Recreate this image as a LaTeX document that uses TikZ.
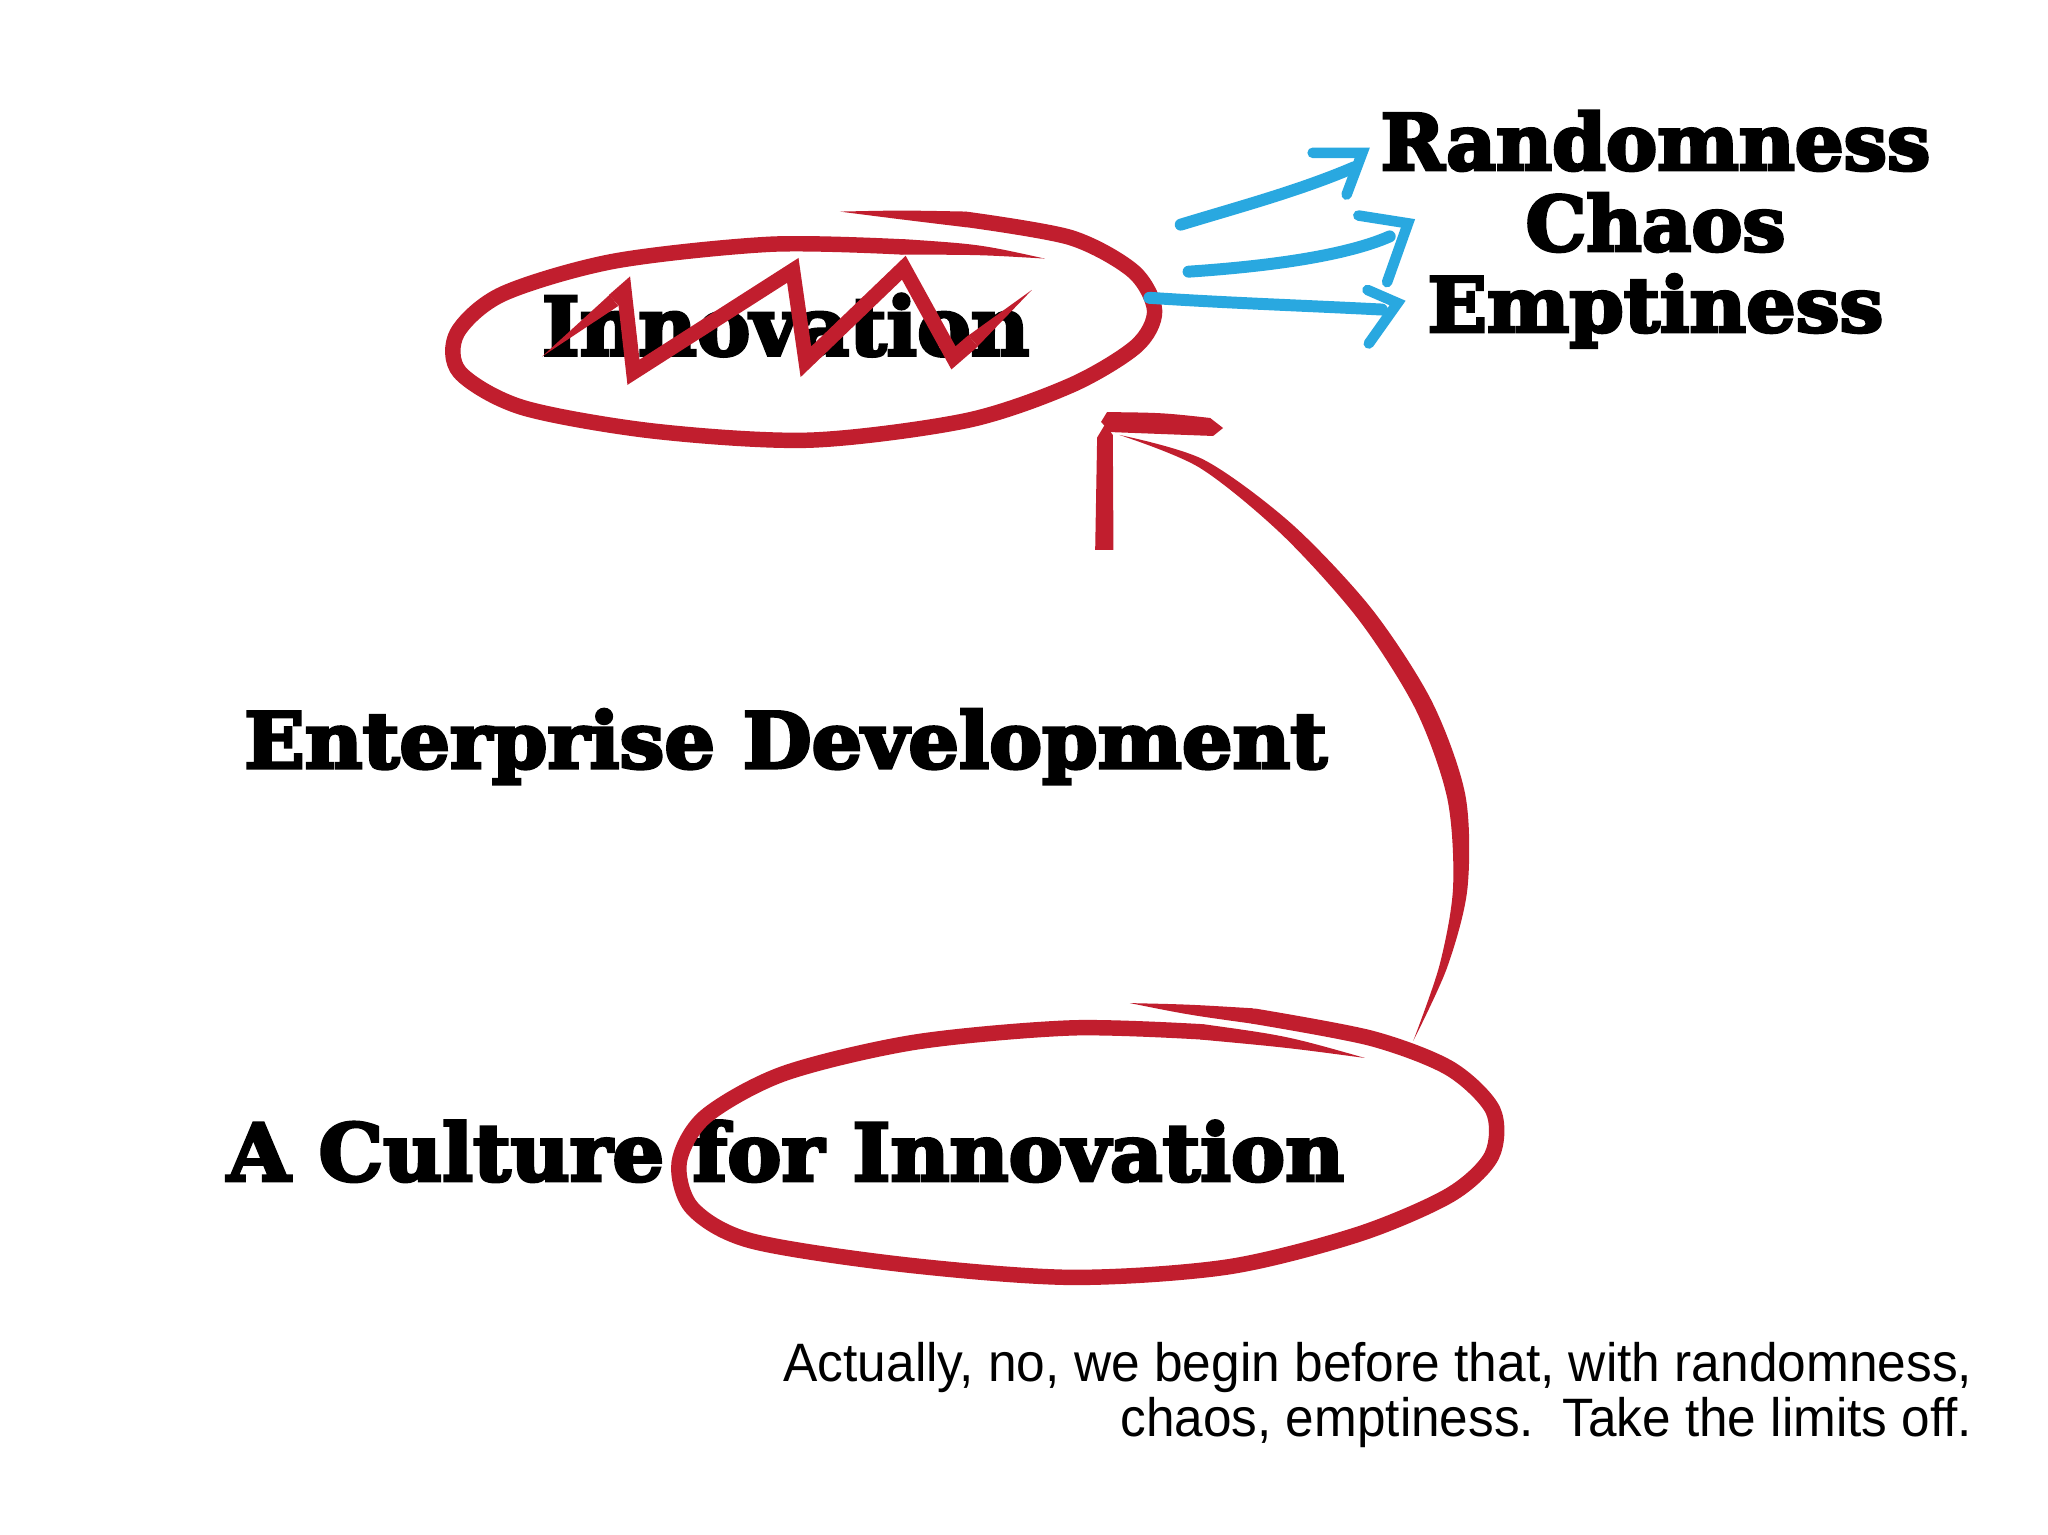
\documentclass[tikz,border=0pt]{standalone}
\usepackage{fontspec}
\usepackage{graphicx}
\newfontfamily\headfont{DejaVu Serif}[BoldFeatures={FakeBold=4}]
\newfontfamily\notefont{Liberation Sans}
\definecolor{inkred}{RGB}{193,30,46}
\definecolor{inkblue}{RGB}{41,168,224}
\newcommand{\headword}[3]{\resizebox{#1cm}{#2cm}{\headfont\bfseries #3}}
\newcommand{\noteline}[2]{\resizebox{#1cm}{0.392cm}{\notefont #2}}
\tikzset{
  hw/.style={inner sep=0pt, outer sep=0pt, anchor=base west},
  note/.style={inner sep=0pt, outer sep=0pt, anchor=base east},
  redline/.style={draw=inkred, line width=4.4pt, line cap=round, line join=round},
  zigline/.style={draw=inkred, line width=4.2pt, line cap=butt, line join=miter},
  redfill/.style={fill=inkred, draw=none},
  blueline/.style={draw=inkblue, line width=3.4pt, line cap=round, line join=round},
  bluehead/.style={draw=inkblue, line width=3pt, line cap=round, line join=miter}
}
\begin{document}
\begin{tikzpicture}[x=0.013061cm, y=-0.013061cm]
\useasboundingbox[fill=white] (0,0) rectangle (1568,1175);

% ---- texts
\node[hw] (innov) at (415,272) {\headword{4.872}{0.614}{Innovation}};
\node[hw] (rand) at (1057,130) {\headword{5.499}{0.588}{Randomness}};
\node[hw] (chaos) at (1168,192) {\headword{2.599}{0.575}{Chaos}};
\node[hw] (empty) at (1093,254) {\headword{4.558}{0.575}{Emptiness}};
\node[hw] (enter) at (187,588) {\headword{10.828}{0.588}{Enterprise Development}};
\node[hw] (cult) at (174,904) {\headword{11.167}{0.601}{A Culture for Innovation}};
\node[note] (note1) at (1510,1058) {\noteline{11.886}{Actually, no, we begin before that, with randomness,}};
\node[note] (note2) at (1510,1100) {\noteline{8.516}{chaos, emptiness.\ \ Take the limits off.}};

% ---- top loop around Innovation
\fill[redfill] (643,162) .. controls (690,161) .. (740.4,162) -- (739.6,174) .. controls (690,168) .. cycle;
\draw[redline] plot[smooth] coordinates {(740,168) (820,182) (868,208) (884,238) (870,265) (820,295) (740,322) (620,337) (500,330) (400,312) (352,285) (350,255) (385,225) (470,200) (590,187) (690,189)};
\fill[redfill] (690.5,183) .. controls (750,187) .. (800,198) .. controls (750,195) .. (689.5,195) -- cycle;

% ---- zigzag over Innovation
\fill[redfill] (415,273) -- (473.3,234.3) -- (466.7,225.7) -- cycle;
\draw[zigline] (470,230) -- (478,223) -- (485,285) -- (607,207) -- (617,277) -- (692,205) -- (730,274) -- (745,261);
\fill[redfill] (748.6,265.1) -- (790,222) -- (741.4,256.9) -- cycle;

% ---- bottom loop around "for Innovation"
\fill[redfill] (865,768) .. controls (910,769) .. (959.4,772) -- (960.6,784) .. controls (910,777) .. cycle;
\draw[redline] plot[smooth] coordinates {(960,778) (1050,795) (1110,818) (1143,850) (1142,885) (1110,915) (1040,945) (940,970) (820,978) (690,968) (575,950) (530,925) (520,890) (540,855) (600,822) (700,798) (820,787) (920,790)};
\fill[redfill] (920.9,784.1) .. controls (985,793) .. (1045,810) .. controls (985,802) .. (919.1,795.9) -- cycle;

% ---- big red arrow
\fill[redfill] plot[smooth] coordinates {(1082,797) (1107.9,740.9) (1123.5,680.4) (1121.9,608.6) (1096.2,536.9) (1050.1,466.0) (988.7,400.9) (921.7,352.0) (857,333)}
  -- plot[smooth] coordinates {(857,333) (918.3,358.0) (981.3,409.1) (1039.9,474.0) (1083.8,543.1) (1108.1,611.4) (1112.5,679.6) (1102.1,739.1) (1082,797)} -- cycle;
\fill[redfill] (838.5,421) -- (840,335) -- (846,325) -- (852,333) -- (852.5,421) -- cycle;
\fill[redfill] (843,323) -- (847.6,315.5) .. controls (890,316) .. (926.5,320) -- (936.4,327.7) -- (928.8,333.8) .. controls (890,332) .. (850,330.8) -- cycle;

% ---- blue arrows
\draw[blueline] (904,172) .. controls (950,158) and (995,146) .. (1037,128);
\draw[bluehead] (1005,117) -- (1043,117) -- (1031,149);
\draw[blueline] (910,208) .. controls (970,204) and (1030,196) .. (1064,181);
\draw[bluehead] (1040,165) -- (1078,171) -- (1062,216);
\draw[blueline] (880,228) .. controls (940,232) and (1000,234) .. (1058,237);
\draw[bluehead] (1047,222) -- (1070,232) -- (1048,263);
\end{tikzpicture}
\end{document}
